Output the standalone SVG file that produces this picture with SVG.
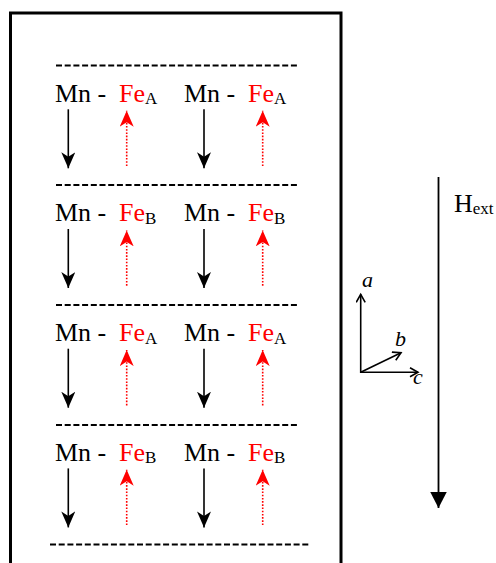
<svg xmlns="http://www.w3.org/2000/svg" width="496" height="563" viewBox="0 0 496 563">
<style>
text{font-family:'Liberation Serif',serif}
.t{font-size:26px;fill:#000}
.fe{fill:#ff0000}
.sub{font-size:17px;fill:#000}
.dash{stroke:#000;stroke-width:2;stroke-dasharray:6 2.7;fill:none}
.mn{stroke:#000;stroke-width:1.6;fill:none}
.fearr{stroke:#ff0000;stroke-width:1.6;stroke-dasharray:1.6 1.6;fill:none}
.ax{stroke:#000;stroke-width:1.6;fill:none}
.lab{font-size:22px;font-style:italic;fill:#000}
</style>
<defs>
<marker id="hk" markerUnits="userSpaceOnUse" markerWidth="20" markerHeight="20" refX="16" refY="7" orient="auto">
<path d="M0,0 L16,7 L0,14 L4.5,7 Z" fill="#000"/>
</marker>
<marker id="hr" markerUnits="userSpaceOnUse" markerWidth="20" markerHeight="20" refX="16" refY="7" orient="auto">
<path d="M0,0 L16,7 L0,14 L4.5,7 Z" fill="#ff0000"/>
</marker>
<marker id="ho" markerUnits="userSpaceOnUse" markerWidth="14" markerHeight="14" refX="9" refY="5" orient="auto">
<path d="M1,0.5 L9,5 L1,9.5" fill="none" stroke="#000" stroke-width="1.6"/>
</marker>
<marker id="ht" markerUnits="userSpaceOnUse" markerWidth="20" markerHeight="20" refX="16.5" refY="8.5" orient="auto">
<path d="M0,0 L16.5,8.5 L0,17 Z" fill="#000"/>
</marker>
</defs>
<rect id="crystal" x="10.5" y="13" width="330.5" height="600" fill="none" stroke="#000" stroke-width="3"/>
<g id="layers">
<line class="dash" x1="56" y1="65.5" x2="298" y2="65.5"/>
<line class="dash" x1="56" y1="185" x2="298" y2="185"/>
<line class="dash" x1="56" y1="305" x2="298" y2="305"/>
<line class="dash" x1="56" y1="425" x2="298" y2="425"/>
<line class="dash" x1="50" y1="544.5" x2="309" y2="544.5"/>
</g>
<g id="row1">
<text class="t" font-family="Liberation Serif" x="55" y="101.7">Mn -</text>
<text class="t fe" font-family="Liberation Serif" x="119" y="101.7">Fe<tspan class="sub" dy="2.6">A</tspan></text>
<text class="t" font-family="Liberation Serif" x="184" y="101.7">Mn -</text>
<text class="t fe" font-family="Liberation Serif" x="248" y="101.7">Fe<tspan class="sub" dy="2.6">A</tspan></text>
<line class="mn" x1="68.3" y1="109.3" x2="68.3" y2="168.3" marker-end="url(#hk)"/>
<line class="fearr" x1="126.7" y1="166" x2="126.7" y2="110.7" marker-end="url(#hr)"/>
<line class="mn" x1="204" y1="109.3" x2="204" y2="168.3" marker-end="url(#hk)"/>
<line class="fearr" x1="262.7" y1="166" x2="262.7" y2="110.7" marker-end="url(#hr)"/>
</g>
<g id="row2" transform="translate(0,119.7)">
<text class="t" font-family="Liberation Serif" x="55" y="101.7">Mn -</text>
<text class="t fe" font-family="Liberation Serif" x="119" y="101.7">Fe<tspan class="sub" dy="2.6">B</tspan></text>
<text class="t" font-family="Liberation Serif" x="184" y="101.7">Mn -</text>
<text class="t fe" font-family="Liberation Serif" x="248" y="101.7">Fe<tspan class="sub" dy="2.6">B</tspan></text>
<line class="mn" x1="68.3" y1="109.3" x2="68.3" y2="168.3" marker-end="url(#hk)"/>
<line class="fearr" x1="126.7" y1="166" x2="126.7" y2="110.7" marker-end="url(#hr)"/>
<line class="mn" x1="204" y1="109.3" x2="204" y2="168.3" marker-end="url(#hk)"/>
<line class="fearr" x1="262.7" y1="166" x2="262.7" y2="110.7" marker-end="url(#hr)"/>
</g>
<g id="row3" transform="translate(0,239.4)">
<text class="t" font-family="Liberation Serif" x="55" y="101.7">Mn -</text>
<text class="t fe" font-family="Liberation Serif" x="119" y="101.7">Fe<tspan class="sub" dy="2.6">A</tspan></text>
<text class="t" font-family="Liberation Serif" x="184" y="101.7">Mn -</text>
<text class="t fe" font-family="Liberation Serif" x="248" y="101.7">Fe<tspan class="sub" dy="2.6">A</tspan></text>
<line class="mn" x1="68.3" y1="109.3" x2="68.3" y2="168.3" marker-end="url(#hk)"/>
<line class="fearr" x1="126.7" y1="166" x2="126.7" y2="110.7" marker-end="url(#hr)"/>
<line class="mn" x1="204" y1="109.3" x2="204" y2="168.3" marker-end="url(#hk)"/>
<line class="fearr" x1="262.7" y1="166" x2="262.7" y2="110.7" marker-end="url(#hr)"/>
</g>
<g id="row4" transform="translate(0,359.1)">
<text class="t" font-family="Liberation Serif" x="55" y="101.7">Mn -</text>
<text class="t fe" font-family="Liberation Serif" x="119" y="101.7">Fe<tspan class="sub" dy="2.6">B</tspan></text>
<text class="t" font-family="Liberation Serif" x="184" y="101.7">Mn -</text>
<text class="t fe" font-family="Liberation Serif" x="248" y="101.7">Fe<tspan class="sub" dy="2.6">B</tspan></text>
<line class="mn" x1="68.3" y1="109.3" x2="68.3" y2="168.3" marker-end="url(#hk)"/>
<line class="fearr" x1="126.7" y1="166" x2="126.7" y2="110.7" marker-end="url(#hr)"/>
<line class="mn" x1="204" y1="109.3" x2="204" y2="168.3" marker-end="url(#hk)"/>
<line class="fearr" x1="262.7" y1="166" x2="262.7" y2="110.7" marker-end="url(#hr)"/>
</g>
<g id="axes">
<line class="ax" x1="360.7" y1="373" x2="360.7" y2="294.3" marker-end="url(#ho)"/>
<line class="ax" x1="360" y1="372.3" x2="418" y2="372.3" marker-end="url(#ho)"/>
<line class="ax" x1="360.7" y1="372.3" x2="401" y2="352.7" marker-end="url(#ho)"/>
<text class="lab" font-family="Liberation Serif" x="362" y="287">a</text>
<text class="lab" font-family="Liberation Serif" x="395" y="346">b</text>
<text class="lab" font-family="Liberation Serif" x="413" y="384">c</text>
</g>
<g id="field">
<line class="connector" x1="438.5" y1="177" x2="438.5" y2="508" stroke="#000" stroke-width="1.8" marker-end="url(#ht)"/>
<text class="t" font-family="Liberation Serif" x="454" y="211.7">H<tspan class="sub" font-size="16" dy="2.6">ext</tspan></text>
</g>
</svg>
